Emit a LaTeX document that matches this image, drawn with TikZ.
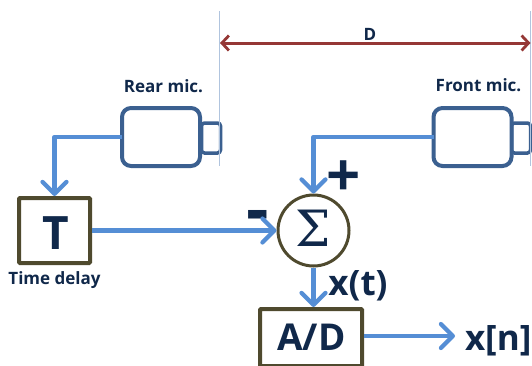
\documentclass[tikz,border=0pt]{standalone}
\usepackage{fontspec}
\setmainfont{Open Sans}[BoldFont={Open Sans Bold}]
\newfontfamily\sigmafont{DejaVu Serif}
\usetikzlibrary{arrows.meta}
\definecolor{ink}{HTML}{10284A}
\definecolor{wire}{HTML}{558ED5}
\definecolor{olive}{HTML}{4F4A2E}
\definecolor{micblue}{HTML}{3B6090}
\definecolor{rule}{HTML}{B0C4DE}
\definecolor{dim}{HTML}{953735}
\tikzset{
  x=1pt,y=-1pt,
  label text/.style={text=ink,inner sep=0pt,outer sep=0pt,anchor=base,font=\fontsize{17}{20}\selectfont\bfseries},
  big text/.style={text=ink,inner sep=0pt,outer sep=0pt,anchor=base,font=\fontsize{35}{40}\selectfont\bfseries},
  micbody/.style={draw=micblue,line width=4pt,rounded corners=9pt,minimum width=78pt,minimum height=58pt,inner sep=0pt,outer sep=0pt,fill=white},
  mictab/.style={draw=micblue,line width=3.5pt,rounded corners=3pt,minimum width=19pt,minimum height=30pt,inner sep=0pt,outer sep=0pt},
  blockbox/.style={draw=olive,line width=4pt,rounded corners=1pt,inner sep=0pt,outer sep=2pt},
  wireline/.style={draw=wire,line width=4.5pt,line join=round,-{Straight Barb[length=12pt,width=24pt,line width=4.2pt,round]}},
  guide/.style={draw=rule,line width=1.2pt},
  span/.style={draw=dim,line width=3pt,{Straight Barb[length=7pt,width=15pt,line width=2.8pt]}-{Straight Barb[length=7pt,width=15pt,line width=2.8pt]}}
}
\begin{document}
\begin{tikzpicture}
\useasboundingbox (0,0) rectangle (532,365);
\clip (0,0) rectangle (532,365);
% microphones
\node[mictab] (reartab) at (211,138) {};
\node[micbody] (rear) at (161,137) {};
\node[mictab] (fronttab) at (521,138) {};
\node[micbody] (front) at (472.5,137) {};
% guides and dimension
\coordinate (gl1) at (219.5,11);
\coordinate (gl2) at (219.5,166);
\coordinate (gr1) at (530.7,11);
\coordinate (gr2) at (530.7,166);
\draw[guide] (gl1) -- (gl2);
\draw[guide] (gr1) -- (gr2);
\coordinate (dl) at (220,43);
\coordinate (dr) at (530.5,43);
\draw[span] (dl) -- (dr);
\node[label text] (dlabel) at (370,40) {D};
\node[label text] (rearlabel) at (163.5,92) {Rear mic.};
\node[label text] (frontlabel) at (478.5,91) {Front mic.};
% blocks
\node[blockbox,minimum width=71pt,minimum height=65pt] (T) at (54.5,230.5) {};
\node[text=ink,inner sep=0pt,anchor=base,font=\fontsize{46}{50}\selectfont\bfseries] (Tlabel) at (55.5,249) {T};
\node[label text] (delay) at (54.5,284) {Time delay};
\node[draw=olive,line width=3pt,circle,minimum size=71pt,inner sep=0pt,outer sep=1.5pt] (sum) at (313.5,230.5) {};
\node[text=ink,inner sep=0pt,anchor=base,font=\fontsize{50}{54}\selectfont\sigmafont] (sigma) at (313.5,246) {Σ};
\node[blockbox,minimum width=102pt,minimum height=57pt] (ad) at (311,337.5) {};
\node[big text,font=\fontsize{37}{40}\selectfont\bfseries] (adlabel) at (311.5,350) {A/D};
% signs and signals
\node[text=ink,inner sep=0pt,anchor=base,font=\fontsize{60}{64}\selectfont\bfseries] (plus) at (344,196) {+};
\node[text=ink,inner sep=0pt,anchor=base,font=\fontsize{70}{74}\selectfont\bfseries] (minus) at (257.5,233) {-};
\node[big text] (xt) at (358,295) {x(t)};
\node[big text,anchor=base west] (xn) at (465,350) {x[n]};
\coordinate (xnin) at (455,336);
% connectors
\draw[wireline] (rear.west) -| (T.north);
\draw[wireline] (front.west) -| (sum.north);
\draw[wireline] (T.east) -- (sum.west);
\draw[wireline] (sum.south) -- (sum.south |- ad.north);
\draw[wireline] (ad.east |- xnin) -- (xnin);
\end{tikzpicture}
\end{document}
